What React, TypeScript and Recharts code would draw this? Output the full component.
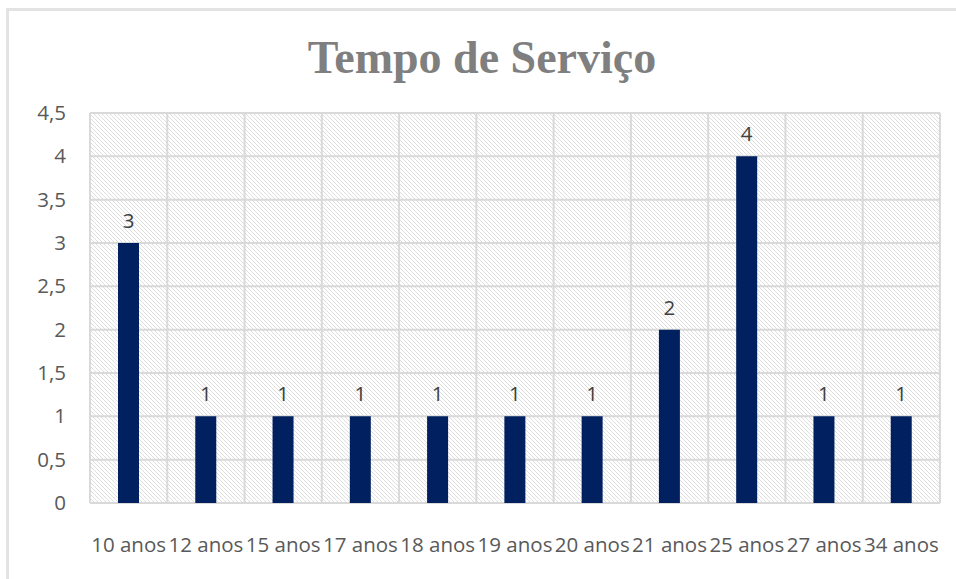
import React from "react";
import { BarChart, Bar, XAxis, YAxis, CartesianGrid, LabelList } from "recharts";

const categories = ["10 anos", "12 anos", "15 anos", "17 anos", "18 anos", "19 anos", "20 anos", "21 anos", "25 anos", "27 anos", "34 anos"];
const values = [3, 1, 1, 1, 1, 1, 1, 2, 4, 1, 1];
const yTicks = [0, 0.5, 1, 1.5, 2, 2.5, 3, 3.5, 4, 4.5];
const title = "Tempo de Serviço";

const data = categories.map((c, i) => ({ name: c, value: values[i] }));

const FONT = "'Open Sans', 'Noto Sans', sans-serif";

const XTick = (props: any) => {
  const { x, y, payload } = props;
  return (
    <text x={x} y={y} dy={49} textAnchor="middle" fill="#595959" fontSize={20.5} fontFamily={FONT}>
      {payload.value}
    </text>
  );
};

const YTick = (props: any) => {
  const { x, y, payload } = props;
  return (
    <text x={x} y={y} dy={7} textAnchor="end" fill="#595959" fontSize={20.5} fontFamily={FONT}>
      {String(payload.value).replace(".", ",")}
    </text>
  );
};

export default function App() {
  return (
    <div style={{ position: "relative", width: 956, height: 579, overflow: "hidden", background: "#fff" }}>
      <style>{`body{margin:0;}`}</style>
      <div
        style={{
          position: "absolute",
          left: 6,
          top: 8,
          width: 980,
          height: 600,
          borderTop: "3px solid #e3e3e3",
          borderLeft: "3px solid #e3e3e3",
          boxSizing: "border-box",
        }}
      />
      <div
        style={{
          position: "absolute",
          left: 4,
          top: 30,
          width: 956,
          textAlign: "center",
          fontFamily: "'Liberation Serif', serif",
          fontWeight: "bold",
          fontSize: 46,
          color: "#7f7f7f",
          lineHeight: "56px",
        }}
      >
        {title}
      </div>
      <div style={{ position: "absolute", left: 0, top: 0 }}>
        <BarChart width={956} height={579} data={data} margin={{ top: 113, right: 16, bottom: 0, left: 0 }}>
          <defs>
            <pattern id="hatch" patternUnits="userSpaceOnUse" width="4" height="4">
              <rect width="4" height="4" fill="#ffffff" />
              <path d="M-1,-1 L5,5 M-1,3 L1,5 M3,-1 L5,1" stroke="#d6d6d6" strokeWidth="0.8" />
            </pattern>
          </defs>
          <CartesianGrid
            fill="url(#hatch)"
            fillOpacity={1}
            stroke="#d9d9d9"
            strokeWidth={2}
            verticalCoordinatesGenerator={({ offset }: any) =>
              Array.from({ length: categories.length + 1 }, (_, i) => offset.left + (i * offset.width) / categories.length)
            }
          />
          <XAxis
            dataKey="name"
            interval={0}
            tickLine={false}
            axisLine={false}
            tickSize={0}
            tickMargin={0}
            height={76}
            tick={<XTick />}
          />
          <YAxis
            domain={[0, 4.5]}
            ticks={yTicks}
            width={90}
            tickLine={false}
            axisLine={false}
            tickSize={0}
            tickMargin={24}
            tick={<YTick />}
          />
          <Bar dataKey="value" fill="#002060" barSize={21} isAnimationActive={false}>
            <LabelList dataKey="value" position="top" offset={15} fill="#404040" fontSize={20.5} fontFamily={FONT} />
          </Bar>
        </BarChart>
      </div>
    </div>
  );
}
